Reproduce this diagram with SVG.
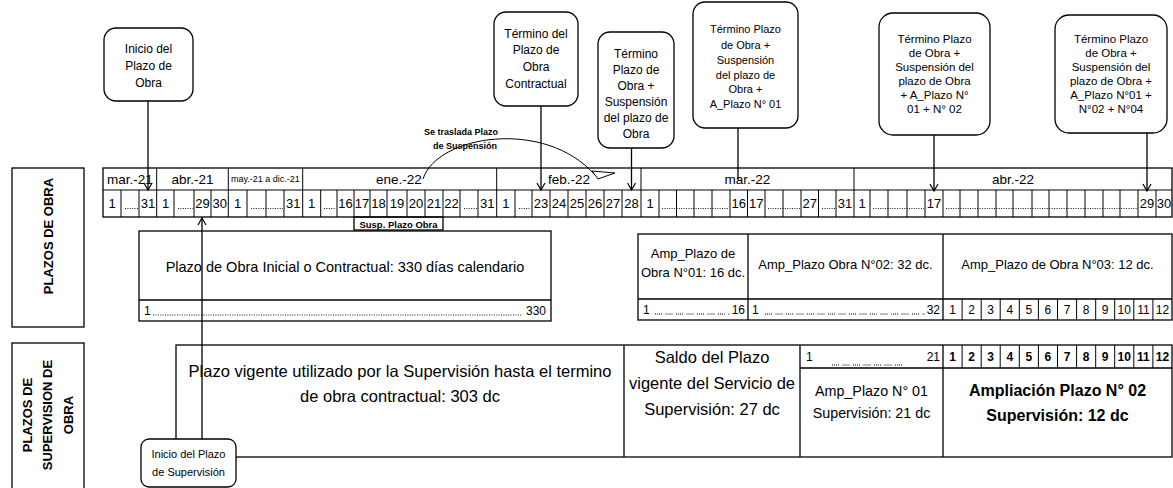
<svg xmlns="http://www.w3.org/2000/svg" width="1173" height="488" viewBox="0 0 1173 488">
<defs>
<style>
.ln{fill:none;stroke:#000;stroke-width:1.3}
.th{fill:none;stroke:#000;stroke-width:1}
.bx{fill:#fff;stroke:#000;stroke-width:1.3}
.dot{fill:none;stroke:#000;stroke-width:0.9;stroke-dasharray:1 1.4}
text{font-family:"Liberation Sans",Arial,sans-serif;fill:#000}
.m{font-size:13.5px;text-anchor:middle}
.d{font-size:13px;text-anchor:middle}
.c12{font-size:12px;text-anchor:middle}
.c11{font-size:11px;text-anchor:middle}
.c115{font-size:11.5px;text-anchor:middle}
.bold{font-weight:bold}
</style>
<marker id="v" viewBox="-8 -5 10 10" refX="0" refY="0" markerWidth="10" markerHeight="10" markerUnits="userSpaceOnUse" orient="auto">
<path d="M-7,-4 L0,0 L-7,4" fill="none" stroke="#000" stroke-width="1.2"/>
</marker>
</defs>
<rect width="1173" height="488" fill="#fff"/>

<g id="label-plazos-obra">
<rect class="ln" x="12" y="168" width="72" height="159"/>
<text class="bold" font-size="13" text-anchor="middle" transform="translate(48,236) rotate(-90)" y="5">PLAZOS DE OBRA</text>
</g>
<g id="label-plazos-supervision">
<rect class="ln" x="12" y="343" width="72" height="150"/>
<g transform="translate(48,415) rotate(-90)" font-size="13" font-weight="bold" text-anchor="middle">
<text y="-16">PLAZOS DE</text>
<text y="4">SUPERVISION DE</text>
<text y="25">OBRA</text>
</g>
</g>

<g id="ruler">
<rect class="ln" x="103" y="168" width="1069" height="49"/>
<path class="th" d="M103 190H1172 M156.7 168V190 M228.3 168V190 M302.7 168V190 M496.7 168V190 M641 168V190 M854 168V190"/>
<path class="th" d="M121 190V217M139 190V217M156.7 190V217M174 190V217M194 190V217M211 190V217M228.3 190V217M247 190V217M266 190V217M284 190V217M302.7 190V217M320.7 190V217M337 190V217M354 190V217M370 190V217M387 190V217M407 190V217M425 190V217M443 190V217M460 190V217M478 190V217M496.7 190V217M515 190V217M532 190V217M550 190V217M568 190V217M586 190V217M604 190V217M622 190V217M641 190V217M659 190V217M676.5 190V217M694 190V217M712 190V217M730 190V217M747.5 190V217M765 190V217M783 190V217M801 190V217M818.5 190V217M836 190V217M854 190V217M870 190V217M888 190V217M907 190V217M925 190V217M943 190V217M960 190V217M978 190V217M996 190V217M1013 190V217M1032 190V217M1049 190V217M1067 190V217M1085 190V217M1103 190V217M1120 190V217M1138 190V217M1156 190V217"/>
<text class="m" x="130" y="184">mar.-21</text>
<text class="m" x="192.5" y="184">abr.-21</text>
<text font-size="9" x="231" y="182">may.-21 a dic.-21</text>
<text class="m" x="399" y="184">ene.-22</text>
<text class="m" x="569" y="184">feb.-22</text>
<text class="m" x="747.5" y="184">mar.-22</text>
<text class="m" x="1013" y="184">abr.-22</text>
<g class="d">
<text x="112" y="208">1</text><text x="148" y="208">31</text>
<text x="165.5" y="208">1</text><text x="202.5" y="208">29</text><text x="219.7" y="208">30</text>
<text x="237.5" y="208">1</text><text x="293.3" y="208">31</text>
<text x="311.7" y="208">1</text><text x="345.5" y="208">16</text><text x="362" y="208">17</text><text x="378.5" y="208">18</text><text x="397" y="208">19</text><text x="416" y="208">20</text><text x="434" y="208">21</text><text x="451.5" y="208">22</text><text x="487.3" y="208">31</text>
<text x="505.8" y="208">1</text><text x="541" y="208">23</text><text x="559" y="208">24</text><text x="577" y="208">25</text><text x="595" y="208">26</text><text x="613" y="208">27</text><text x="631.5" y="208">28</text>
<text x="650" y="208">1</text><text x="738.7" y="208">16</text><text x="756.2" y="208">17</text><text x="809.7" y="208">27</text><text x="845" y="208">31</text>
<text x="862" y="208">1</text><text x="934" y="208">17</text><text x="1147" y="208">29</text><text x="1164" y="208">30</text>
</g>
<path class="dot" d="M125 208.5H138 M178 208.5H193 M251 208.5H283 M324 208.5H336 M464 208.5H477 M519 208.5H531 M662 208.5H729 M768 208.5H800 M822 208.5H835 M873 208.5H924 M946 208.5H1137"/>
</g>

<g id="susp-box">
<rect class="ln" x="354" y="217" width="89" height="13"/>
<text class="bold" font-size="9.5" x="398.5" y="227.5" text-anchor="middle">Susp. Plazo Obra</text>
</g>

<g id="plazo-obra-inicial">
<rect class="ln" x="139" y="231" width="412" height="90"/>
<path class="ln" d="M139 300H551"/>
<text font-size="14.5" x="345" y="272" text-anchor="middle">Plazo de Obra Inicial o Contractual: 330 días calendario</text>
<text font-size="12" x="144" y="315">1</text>
<text font-size="12" x="546" y="315" text-anchor="end">330</text>
<path class="dot" d="M153 315H522"/>
</g>

<g id="ampliaciones-obra">
<rect class="ln" x="638" y="234" width="534" height="86"/>
<path class="ln" d="M748 234V320 M943 234V320 M638 299H1172"/>
<path class="th" d="M962.1 299V320M981.2 299V320M1000.2 299V320M1019.3 299V320M1038.4 299V320M1057.5 299V320M1076.6 299V320M1095.7 299V320M1114.7 299V320M1133.8 299V320M1152.9 299V320"/>
<text font-size="13" x="693" y="258" text-anchor="middle">Amp_Plazo de</text>
<text font-size="13" x="693" y="277" text-anchor="middle">Obra N°01: 16 dc.</text>
<text font-size="13" x="845.5" y="269" text-anchor="middle">Amp_Plazo Obra N°02: 32 dc.</text>
<text font-size="13" x="1057.5" y="269" text-anchor="middle">Amp_Plazo de Obra N°03: 12 dc.</text>
<text font-size="12" x="643" y="314">1</text>
<text font-size="12" x="745" y="314" text-anchor="end">16</text>
<path class="th" stroke-dasharray="1,1,1,1,1,1,1,3.5" d="M655 314H730"/>
<text font-size="12" x="752" y="314">1</text>
<text font-size="12" x="940" y="314" text-anchor="end">32</text>
<path class="th" stroke-dasharray="1,1,1,1,1,1,1,3.5" d="M765 314H925"/>
<g class="c12">
<text x="952.5" y="314">1</text><text x="971.6" y="314">2</text><text x="990.7" y="314">3</text><text x="1009.8" y="314">4</text><text x="1028.9" y="314">5</text><text x="1047.9" y="314">6</text><text x="1067" y="314">7</text><text x="1086.1" y="314">8</text><text x="1105.2" y="314">9</text><text x="1124.3" y="314">10</text><text x="1143.4" y="314">11</text><text x="1162.5" y="314">12</text>
</g>
</g>

<g id="plazos-supervision">
<rect class="ln" x="176" y="345" width="996" height="112"/>
<path class="ln" d="M624 345V457 M800 345V457 M943 345V457 M800 368H1172"/>
<path class="th" d="M962.1 345V368M981.2 345V368M1000.2 345V368M1019.3 345V368M1038.4 345V368M1057.5 345V368M1076.6 345V368M1095.7 345V368M1114.7 345V368M1133.8 345V368M1152.9 345V368"/>
<text font-size="16.5" x="400" y="377" text-anchor="middle">Plazo vigente utilizado por la Supervisión hasta el termino</text>
<text font-size="16.5" x="400" y="402" text-anchor="middle">de obra contractual: 303 dc</text>
<text font-size="16.5" x="712" y="363" text-anchor="middle">Saldo del Plazo</text>
<text font-size="16.5" x="712" y="389" text-anchor="middle">vigente del Servicio de</text>
<text font-size="16.5" x="712" y="415" text-anchor="middle">Supervisión: 27 dc</text>
<text font-size="12" x="806" y="361">1</text>
<text font-size="12" x="940" y="361" text-anchor="end">21</text>
<path class="th" stroke-dasharray="1,1,1,1,1,1,1,3.5" d="M832 365H905"/>
<g class="c12 bold">
<text x="952.5" y="361">1</text><text x="971.6" y="361">2</text><text x="990.7" y="361">3</text><text x="1009.8" y="361">4</text><text x="1028.9" y="361">5</text><text x="1047.9" y="361">6</text><text x="1067" y="361">7</text><text x="1086.1" y="361">8</text><text x="1105.2" y="361">9</text><text x="1124.3" y="361">10</text><text x="1143.4" y="361">11</text><text x="1162.5" y="361">12</text>
</g>
<text font-size="14.3" x="871.5" y="396" text-anchor="middle">Amp_Plazo N° 01</text>
<text font-size="14.3" x="871.5" y="418" text-anchor="middle">Supervisión: 21 dc</text>
<text class="bold" font-size="16" x="1057.5" y="396" text-anchor="middle">Ampliación Plazo N° 02</text>
<text class="bold" font-size="16" x="1057.5" y="421" text-anchor="middle">Supervisión: 12 dc</text>
</g>

<g id="connectors">
<path class="ln" marker-end="url(#v)" d="M148 101V190"/>
<path class="ln" marker-end="url(#v)" d="M541 106V190"/>
<path class="ln" marker-end="url(#v)" d="M631.5 148V190"/>
<path class="ln" d="M738 128V180"/>
<path class="ln" marker-end="url(#v)" d="M934 135V191"/>
<path class="ln" marker-end="url(#v)" d="M1147 133V191"/>
<path class="ln" marker-end="url(#v)" d="M202 439V218"/>
<path class="th" d="M423 179C437 135 545 118 595 175"/>
<polygon points="592,171 615,173 598,179" fill="#fff" stroke="#000" stroke-width="1"/>
</g>

<g id="note-traslada">
<text class="bold" font-size="9" x="461" y="135" text-anchor="middle">Se traslada Plazo</text>
<text class="bold" font-size="9" x="465" y="149" text-anchor="middle">de Suspensión</text>
</g>

<g id="n-inicio-obra">
<rect class="bx" x="104" y="28" width="89" height="73" rx="12"/>
<text class="c12" font-size="12.5" x="148.5" y="52.6">Inicio del</text>
<text class="c12" font-size="12.5" x="148.5" y="70">Plazo de</text>
<text class="c12" font-size="12.5" x="148.5" y="87">Obra</text>
</g>
<g id="n-termino-contractual">
<rect class="bx" x="494" y="12" width="84" height="94" rx="12"/>
<text class="c12" x="536" y="37.6">Término del</text>
<text class="c12" x="536" y="54.3">Plazo de</text>
<text class="c12" x="536" y="71">Obra</text>
<text class="c12" x="536" y="87.6">Contractual</text>
</g>
<g id="n-termino-susp">
<rect class="bx" x="598" y="32" width="76" height="116" rx="12"/>
<text class="c12" x="636" y="58">Término</text>
<text class="c12" x="636" y="74">Plazo de</text>
<text class="c12" x="636" y="90">Obra +</text>
<text class="c12" x="636" y="106">Suspensión</text>
<text class="c12" x="636" y="122">del plazo de</text>
<text class="c12" x="636" y="138">Obra</text>
</g>
<g id="n-termino-amp01">
<rect class="bx" x="693" y="2" width="105" height="126" rx="12"/>
<text class="c11" x="745.5" y="32.5">Término Plazo</text>
<text class="c11" x="745.5" y="48.5">de Obra +</text>
<text class="c11" x="745.5" y="63.5">Suspensión</text>
<text class="c11" x="745.5" y="78.5">del plazo de</text>
<text class="c11" x="745.5" y="93">Obra +</text>
<text class="c11" x="745.5" y="107.5">A_Plazo N° 01</text>
</g>
<g id="n-termino-amp02">
<rect class="bx" x="879" y="13" width="111" height="122" rx="14"/>
<text class="c115" x="934.5" y="42.5">Término Plazo</text>
<text class="c115" x="934.5" y="56.7">de Obra +</text>
<text class="c115" x="934.5" y="70.8">Suspensión del</text>
<text class="c115" x="934.5" y="84.9">plazo de Obra</text>
<text class="c115" x="934.5" y="99">+ A_Plazo N°</text>
<text class="c115" x="934.5" y="113">01 + N° 02</text>
</g>
<g id="n-termino-amp04">
<rect class="bx" x="1055" y="15" width="112" height="118" rx="14"/>
<text class="c115" x="1111" y="42.5">Término Plazo</text>
<text class="c115" x="1111" y="56.7">de Obra +</text>
<text class="c115" x="1111" y="70.8">Suspensión del</text>
<text class="c115" x="1111" y="84.9">plazo de Obra +</text>
<text class="c115" x="1111" y="99">A_Plazo N°01 +</text>
<text class="c115" x="1111" y="113">N°02 + N°04</text>
</g>
<g id="n-inicio-supervision">
<rect class="bx" x="141" y="439" width="95" height="48" rx="8"/>
<text class="c11" x="188.5" y="458">Inicio del Plazo</text>
<text class="c11" x="188.5" y="476">de Supervisión</text>
</g>
</svg>
